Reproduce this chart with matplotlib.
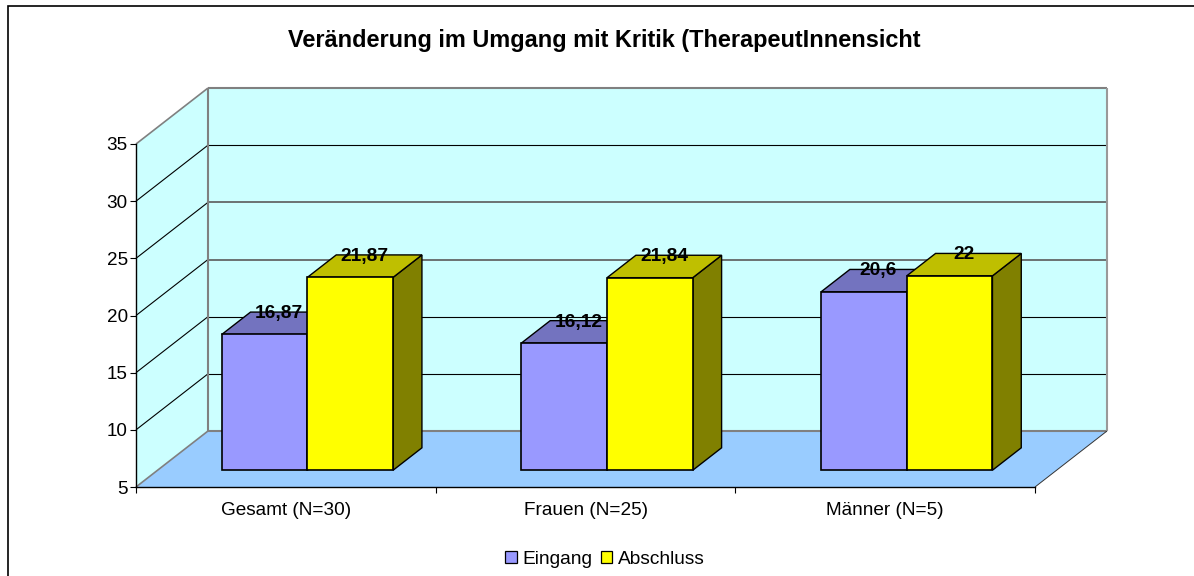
import matplotlib
matplotlib.use("Agg")
import matplotlib.pyplot as plt
from matplotlib.lines import Line2D
from matplotlib.patches import Polygon, Patch

categories = ["Gesamt (N=30)", "Frauen (N=25)", "Männer (N=5)"]
series_names = ["Eingang", "Abschluss"]
eingang = [16.87, 16.12, 20.6]
abschluss = [21.87, 21.84, 22]
labels_eingang = ["16,87", "16,12", "20,6"]
labels_abschluss = ["21,87", "21,84", "22"]
yticks = [5, 10, 15, 20, 25, 30, 35]
title = "Veränderung im Umgang mit Kritik (TherapeutInnensicht"

W, H = 1194, 576
plt.rcParams["font.family"] = ["Liberation Sans", "DejaVu Sans"]
fig = plt.figure(figsize=(W / 100, H / 100), dpi=100, facecolor="white")
L, R, T, B = 136, 1035, 144, 487
ax = fig.add_axes([L / W, 1 - B / H, (R - L) / W, (B - T) / H])
ax.set_xlim(0, 3)
ax.set_ylim(5, 35)
ax.patch.set_alpha(0)

DX = 72 / ((R - L) / 3)   # full depth in category units
DY = 56 / ((B - T) / 30)  # full depth in value units
BAR_W = 85.7 / ((R - L) / 3)


def pr(c, v, d):
    return (c + d * DX, v + d * DY)


def poly(pts, fc, ec, lw, z):
    ax.add_patch(Polygon(pts, closed=True, facecolor=fc, edgecolor=ec, linewidth=lw,
                         joinstyle="miter", zorder=z, clip_on=False))


def seg(a, b, color, lw, z):
    ax.plot(*zip(a, b), color=color, lw=lw, zorder=z, clip_on=False, solid_capstyle="butt")


WALL = "#CCFFFF"
FLOOR = "#99CCFF"
GREY = "#808080"
# walls and floor fills
poly([pr(0, 5, 1), pr(3, 5, 1), pr(3, 35, 1), pr(0, 35, 1)], WALL, "none", 0, 1)
poly([pr(0, 5, 0), pr(0, 5, 1), pr(0, 35, 1), pr(0, 35, 0)], WALL, "none", 0, 1)
poly([pr(0, 5, 0), pr(3, 5, 0), pr(3, 5, 1), pr(0, 5, 1)], FLOOR, "none", 0, 1.5)
# gridlines
grid_styles = {10: ("black", 0.8), 15: ("black", 0.8), 20: ("#5A5A5A", 1.2),
               25: ("#5A5A5A", 1.2), 30: ("black", 0.8)}
for v in yticks[1:-1]:
    seg(pr(0, v, 0), pr(0, v, 1), "black", 0.8, 2)
    seg(pr(0, v, 1), pr(3, v, 1), grid_styles[v][0], grid_styles[v][1], 2)
# wall outlines
seg(pr(0, 35, 1), pr(3, 35, 1), GREY, 1.5, 2.5)
seg(pr(0, 5, 1), pr(3, 5, 1), GREY, 1.5, 2.5)
seg(pr(0, 5, 1), pr(0, 35, 1), GREY, 1.5, 2.5)
seg(pr(3, 5, 1), pr(3, 35, 1), "#999999", 1.5, 2.5)
seg(pr(0, 35, 0), pr(0, 35, 1), GREY, 1.2, 2.5)
seg(pr(0, 5, 0), pr(0, 5, 1), GREY, 1.2, 2.5)
seg(pr(3, 5, 0), pr(3, 5, 1), "#333333", 0.7, 2.5)

D0, D1 = 0.3, 0.7


def bar3d(x0, w, v, front, top, side, z):
    poly([pr(x0, 5, D0), pr(x0 + w, 5, D0), pr(x0 + w, v, D0), pr(x0, v, D0)], front, "black", 1.2, z + 0.2)
    poly([pr(x0, v, D0), pr(x0 + w, v, D0), pr(x0 + w, v, D1), pr(x0, v, D1)], top, "black", 1.0, z + 0.1)
    poly([pr(x0 + w, 5, D0), pr(x0 + w, 5, D1), pr(x0 + w, v, D1), pr(x0 + w, v, D0)], side, "black", 1.0, z)


for i in range(len(categories)):
    c = i + 0.5
    bar3d(c - BAR_W, BAR_W, eingang[i], "#9999FF", "#7373BF", "#4D4D80", 3 + i)
    bar3d(c, BAR_W, abschluss[i], "#FFFF00", "#BFBF00", "#808000", 3.5 + i)
    for x0, v, s in [(c - BAR_W, eingang[i], labels_eingang[i]), (c, abschluss[i], labels_abschluss[i])]:
        px, _ = pr(x0 + BAR_W / 2, v, 0.5 * (D0 + D1))
        py = v + D1 * DY
        ax.annotate(s, (px, py), xytext=(0, -1.0), textcoords="offset points", ha="center", va="center",
                    fontsize=13.8, fontweight="bold", color="black", zorder=20, annotation_clip=False)

# axes
for s in ("top", "right"):
    ax.spines[s].set_visible(False)
for s in ("left", "bottom"):
    ax.spines[s].set_linewidth(1.0)
    ax.spines[s].set_color("black")
    ax.spines[s].set_zorder(10)
ax.set_yticks(yticks)
ax.set_yticklabels([str(t) for t in yticks])
ax.tick_params(axis="y", length=4.5, width=0.8, labelsize=13.6, pad=1.5, colors="black")
ax.set_xticks([0, 1, 2, 3])
ax.set_xticklabels([])
ax.tick_params(axis="x", which="major", length=4.5, width=0.8)
ax.set_xticks([0.5, 1.5, 2.5], minor=True)
ax.set_xticklabels(categories, minor=True)
ax.tick_params(axis="x", which="minor", length=0, labelsize=13.7, pad=11)

# title
fig.text(604.5 / W, 1 - 41 / H, title, ha="center", va="center", fontsize=16.9, fontweight="bold")

# legend
handles = [Patch(facecolor="#9999FF", edgecolor="black", linewidth=0.9, label=series_names[0]),
           Patch(facecolor="#FFFF00", edgecolor="black", linewidth=0.9, label=series_names[1])]
fig.legend(handles=handles, loc="center", bbox_to_anchor=(605 / W, 1 - 559 / H), ncol=2, frameon=False,
           fontsize=13.8, handlelength=0.58, handleheight=0.58, handletextpad=0.3,
           columnspacing=0.45, borderpad=0, borderaxespad=0)

# chart-area border: only the top and left edges lie inside the picture
fig.add_artist(Line2D([7.5 / W, 7.5 / W, 1], [0, 1 - 6 / H, 1 - 6 / H], transform=fig.transFigure,
                      color="black", linewidth=1.2, solid_joinstyle="miter"))

fig.savefig("out.png", dpi=100, facecolor="white")
